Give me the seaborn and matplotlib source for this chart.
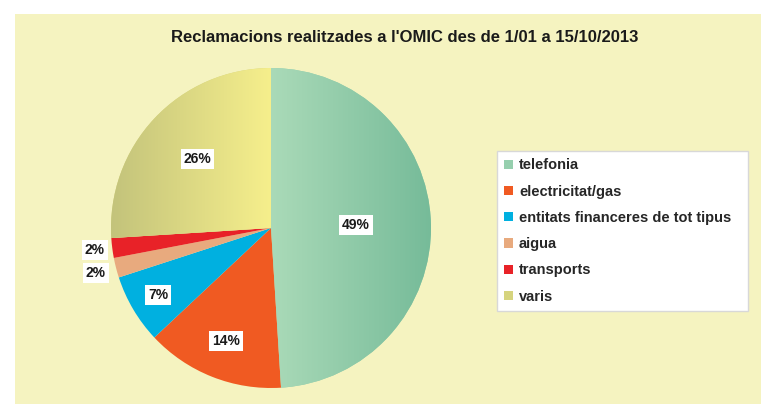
import numpy as np
import matplotlib
matplotlib.use("Agg")
import matplotlib.pyplot as plt
from matplotlib.colors import LinearSegmentedColormap
from matplotlib.patches import Rectangle
import seaborn as sns

sns.set_style("white")
plt.rcParams['font.family'] = ['Liberation Sans', 'DejaVu Sans']

# data (percent of complaints)
categories = ['telefonia', 'electricitat/gas', 'entitats financeres de tot tipus',
              'aigua', 'transports', 'varis']
shares = [49, 14, 7, 2, 2, 26]
pct_labels = ['49%', '14%', '7%', '2%', '2%', '26%']
title = "Reclamacions realitzades a l'OMIC des de 1/01 a 15/10/2013"

# slice colours (solid ones used in legend), gradient ends for two slices
colors = sns.color_palette(['#96CFAE', '#F05A22', '#00B0E0', '#E8AA7E', '#E82228', '#D6D47E'])
gradients = {0: ('#AADAB8', '#76BB99'), 5: ('#C3C37B', '#F6EF8C')}
label_radius = [0.53, 0.76, 0.82, 1.13, 1.11, 0.63]

W, H = 775, 404
fig = plt.figure(figsize=(W / 100, H / 100), dpi=100)
fig.patch.set_facecolor('white')
fig.patches.append(Rectangle((15 / W, 0), 746 / W, 390 / H, transform=fig.transFigure,
                             facecolor='#F5F3C0', edgecolor='none', zorder=-5))

ax = fig.add_axes([111 / W, 16 / H, 320 / W, 320 / H])
ax.set_facecolor('none')
wedges, _ = ax.pie(shares, colors=colors, startangle=90, counterclock=False,
                   radius=1, wedgeprops=dict(linewidth=0))
ax.set_aspect('equal')
ax.axis('off')

# horizontal gradient fill for telefonia and varis
ramp = np.linspace(0, 1, 256).reshape(1, -1)
for i, (c0, c1) in gradients.items():
    w = wedges[i]
    cmap = LinearSegmentedColormap.from_list('g%d' % i, [c0, c1])
    x0 = 0 if i == 0 else -1
    im = ax.imshow(ramp, cmap=cmap, aspect='auto', extent=[x0, x0 + 1, -1, 1],
                   interpolation='bilinear', zorder=w.get_zorder() + 0.1)
    im.set_clip_path(w)
ax.set_xlim(-1, 1)
ax.set_ylim(-1, 1)

for w, lab, r in zip(wedges, pct_labels, label_radius):
    ang = np.deg2rad((w.theta1 + w.theta2) / 2)
    ax.text(r * np.cos(ang), r * np.sin(ang), lab, ha='center', va='center',
            fontsize=10, fontweight='bold', color='#1a1a1a', zorder=5,
            bbox=dict(boxstyle='square,pad=0.22', facecolor='white', edgecolor='none'))

fig.text(405 / W, 1 - 37 / H, title, ha='center', va='center',
         fontsize=12, fontweight='bold', color='#1a1a1a')

fig.legend(wedges, categories, loc='center left',
           bbox_to_anchor=(497 / W, 97 / H, 251 / W, 152 / H), mode='expand',
           frameon=True, fancybox=False, framealpha=1, edgecolor='#D8D8D8',
           prop=dict(size=10.5, weight='bold'), handlelength=0.6, handleheight=0.6,
           handletextpad=0.4, labelspacing=0.84, borderpad=0.5, borderaxespad=0)

fig.savefig('out.png', dpi=100)
